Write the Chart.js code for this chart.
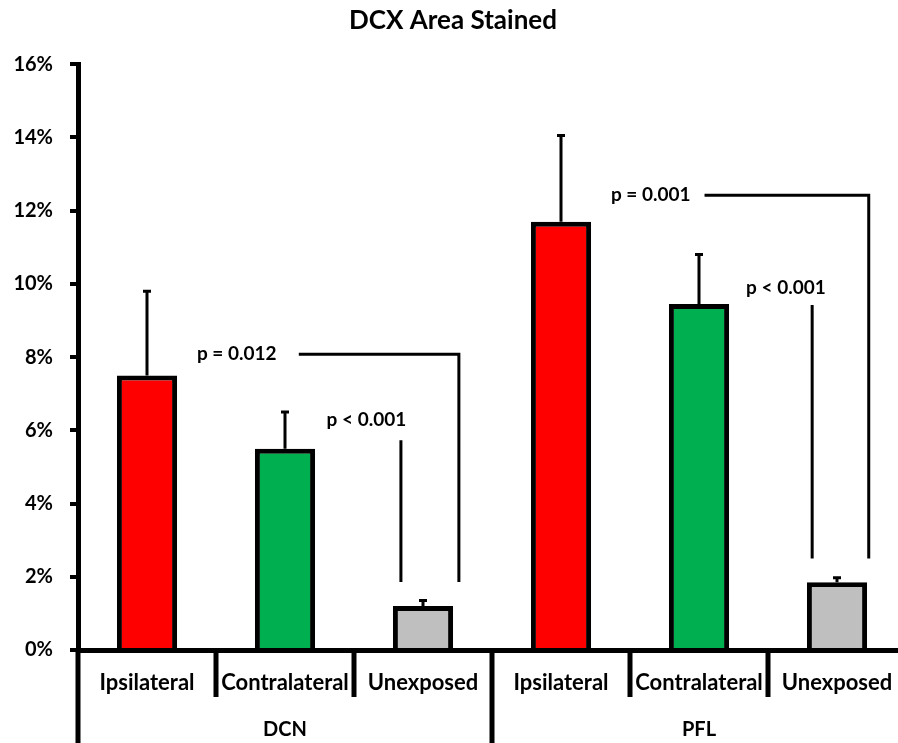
<!DOCTYPE html>
<html>
<head>
<meta charset="utf-8">
<script src="https://cdn.jsdelivr.net/npm/chart.js@4.4.1/dist/chart.umd.min.js"></script>
<style>
  html, body { margin: 0; padding: 0; background: #fff; overflow: hidden; }
  #wrap { width: 906px; height: 743px; }
</style>
</head>
<body>
<div id="wrap"><canvas id="dcxChart"></canvas></div>
<script>
// Data
const categories = ['Ipsilateral', 'Contralateral', 'Unexposed', 'Ipsilateral', 'Contralateral', 'Unexposed'];
const groups = ['DCN', 'PFL'];
const groupSizes = [3, 3];
const areaStained = [7.5, 5.5, 1.2, 11.7, 9.45, 1.85];
const errorUp = [2.3, 1.0, 0.15, 2.35, 1.35, 0.12];
const barColors = ['#ff0000', '#00b050', '#bfbfbf', '#ff0000', '#00b050', '#bfbfbf'];

// Significance labels (position in category units, value in %)
const pLabels = ['p = 0.012', 'p < 0.001', 'p = 0.001', 'p < 0.001'];
const pLabelPos = [0.65, 1.59, 3.65, 4.63];
const pLabelVal = [8.1, 6.28, 12.42, 9.88];

// Brackets (DCN, PFL)
const bracketFrom = [1.10, 4.04];
const bracketTo = [2.26, 5.23];
const bracketTop = [8.08, 12.42];
const bracketBottom = [1.86, 2.5];
const stemPos = [1.84, 4.82];
const stemTop = [5.73, 9.42];

const FONT = 'Lato, "Open Sans", sans-serif';

const extras = {
    id: 'extras',
    afterDatasetsDraw(chart) {
        const { ctx, scales: { x, y } } = chart;
        const step = x.getPixelForValue(1) - x.getPixelForValue(0);
        const catX = pos => x.getPixelForValue(0) + pos * step;
        ctx.save();
        ctx.strokeStyle = '#000';
        ctx.fillStyle = '#000';
        ctx.lineWidth = 3;

        // error bars (upper only)
        areaStained.forEach((v, i) => {
            const cx = x.getPixelForValue(i);
            const top = y.getPixelForValue(v + errorUp[i]);
            ctx.beginPath();
            ctx.moveTo(cx, y.getPixelForValue(v));
            ctx.lineTo(cx, top);
            ctx.moveTo(cx - 4, top);
            ctx.lineTo(cx + 4, top);
            ctx.stroke();
        });

        // brackets
        bracketFrom.forEach((from, i) => {
            const yt = y.getPixelForValue(bracketTop[i]);
            const yb = y.getPixelForValue(bracketBottom[i]);
            ctx.beginPath();
            ctx.moveTo(catX(from), yt);
            ctx.lineTo(catX(bracketTo[i]), yt);
            ctx.lineTo(catX(bracketTo[i]), yb);
            ctx.moveTo(catX(stemPos[i]), y.getPixelForValue(stemTop[i]));
            ctx.lineTo(catX(stemPos[i]), yb);
            ctx.stroke();
        });

        // p-value labels
        ctx.font = 'bold 19px ' + FONT;
        ctx.textAlign = 'center';
        ctx.textBaseline = 'middle';
        pLabels.forEach((t, i) => {
            ctx.fillText(t, catX(pLabelPos[i]), y.getPixelForValue(pLabelVal[i]));
        });
        ctx.restore();
    },
    afterDraw(chart) {
        const { ctx, chartArea, scales: { x } } = chart;
        const h = chart.height;
        const bottom = chartArea.bottom;
        ctx.save();
        ctx.strokeStyle = '#000';
        ctx.lineWidth = 5;
        ctx.beginPath();
        // y axis continues down to the bottom
        ctx.moveTo(chartArea.left, bottom);
        ctx.lineTo(chartArea.left, h);
        // category separators
        let idx = 0;
        const ends = groupSizes.map(s => (idx += s) - 1);
        for (let i = 0; i < categories.length - 1; i++) {
            const bx = (x.getPixelForValue(i) + x.getPixelForValue(i + 1)) / 2;
            ctx.moveTo(bx, bottom);
            ctx.lineTo(bx, ends.includes(i) ? h : bottom + 47);
        }
        ctx.stroke();

        // group labels
        ctx.fillStyle = '#000';
        ctx.font = 'bold 20px ' + FONT;
        ctx.textAlign = 'center';
        ctx.textBaseline = 'middle';
        let start = 0;
        groups.forEach((g, gi) => {
            const end = start + groupSizes[gi] - 1;
            const step = x.getPixelForValue(1) - x.getPixelForValue(0);
            const left = x.getPixelForValue(start) - step / 2;
            const right = x.getPixelForValue(end) + step / 2;
            ctx.fillText(g, (left + right) / 2, bottom + 80);
            start = end + 1;
        });
        ctx.restore();
    }
};

new Chart(document.getElementById('dcxChart'), {
    type: 'bar',
    data: {
        labels: categories,
        datasets: [{
            data: areaStained,
            backgroundColor: barColors,
            borderColor: '#000',
            borderWidth: 5,
            borderSkipped: 'start',
            barPercentage: 0.436,
            categoryPercentage: 1
        }]
    },
    options: {
        responsive: true,
        maintainAspectRatio: false,
        animation: false,
        layout: { padding: { left: 0, right: 0, top: 0, bottom: 0 } },
        plugins: {
            legend: { display: false },
            tooltip: { enabled: false },
            title: {
                display: true,
                text: 'DCX Area Stained',
                color: '#000',
                font: { family: FONT, size: 26, weight: 'bold' },
                padding: { top: 5, bottom: 28 }
            }
        },
        scales: {
            x: {
                grid: { display: false },
                border: { display: true, color: '#000', width: 5 },
                ticks: {
                    color: '#000',
                    font: { family: FONT, size: 22, weight: 'bold' },
                    padding: 12,
                    maxRotation: 0,
                    autoSkip: false
                },
                afterFit: s => { s.height = 93; }
            },
            y: {
                min: 0,
                max: 16,
                grid: { drawOnChartArea: false, drawTicks: true, tickLength: 8, lineWidth: 4, color: '#000' },
                border: { display: true, color: '#000', width: 5 },
                ticks: {
                    stepSize: 2,
                    color: '#000',
                    padding: 17,
                    font: { family: FONT, size: 20, weight: 'bold' },
                    callback: v => v + '%'
                },
                afterFit: s => { s.width = 78; }
            }
        }
    },
    plugins: [extras]
});
</script>
</body>
</html>
